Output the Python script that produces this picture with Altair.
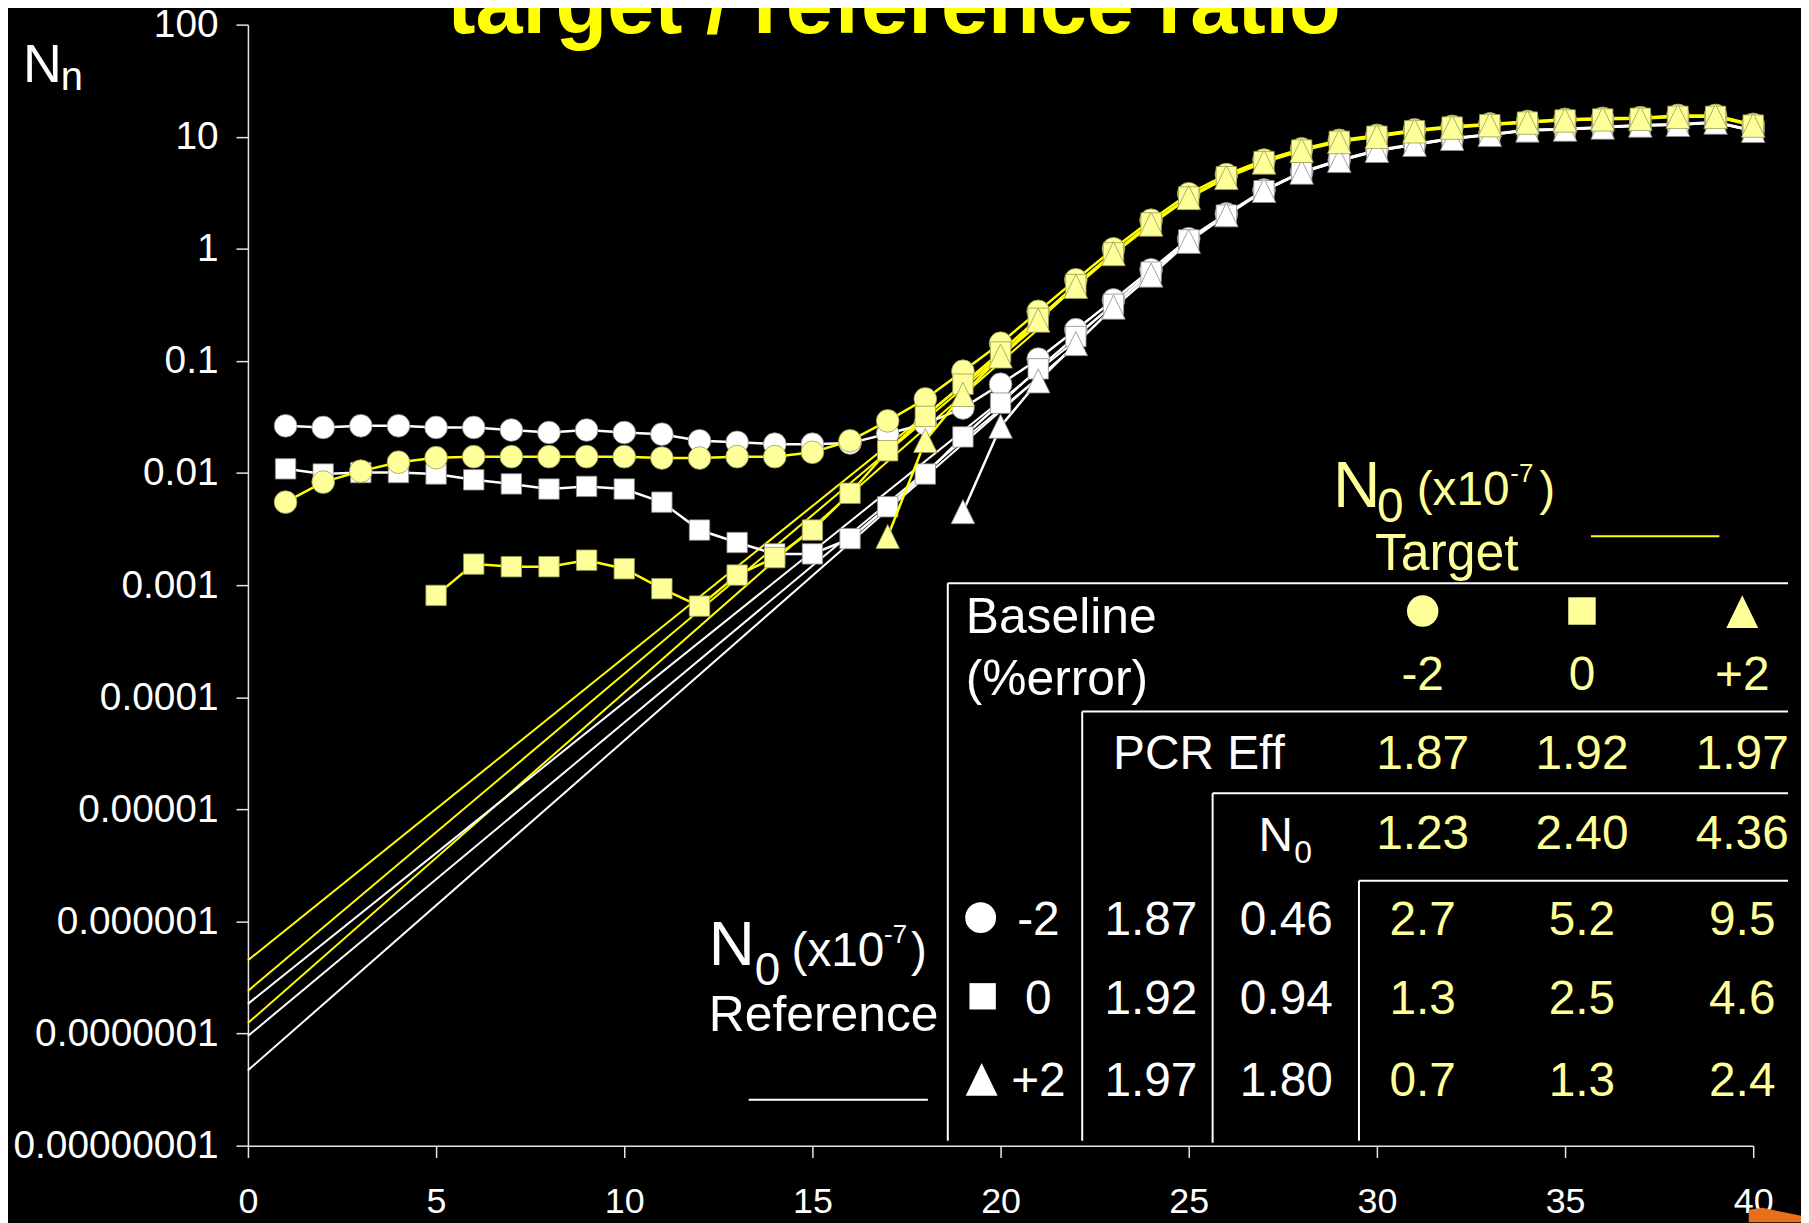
import altair as alt
import pandas as pd

FONT = "Liberation Sans, Arial, Helvetica, sans-serif"
WHITE = "#FFFFFF"
LYEL = "#FFFF99"
YEL = "#FFFF00"

cycles = list(range(1, 41))

# Reference (white) series, baseline error -2 / 0 / +2
ref_m2 = [0.0264, 0.0255, 0.0264, 0.0264, 0.0255, 0.0255, 0.0242, 0.023, 0.0242, 0.023,
          0.0222, 0.0194, 0.0188, 0.0181, 0.0181, 0.0185, 0.0224, 0.0275, 0.038, 0.062,
          0.104, 0.19, 0.35, 0.65, 1.23, 2.05, 3.35, 4.85, 6.2, 7.6,
          8.6, 9.7, 10.5, 11.5, 11.7, 12.2, 12.7, 12.9, 13.5, 11.4]
ref_0 = [0.0109, 0.0098, 0.0101, 0.0101, 0.0098, 0.0087, 0.008, 0.0072, 0.0076, 0.0072,
         0.0055, 0.0031, 0.0024, 0.0019, 0.0019, 0.0026, 0.005, 0.0098, 0.021, 0.042,
         0.085, 0.165, 0.32, 0.62, 1.2, 2.0, 3.3, 4.8, 6.1, 7.5,
         8.5, 9.6, 10.4, 11.4, 11.6, 12.1, 12.6, 12.8, 13.4, 11.3]
ref_p2 = [None] * 18 + [0.0045, 0.026,
          0.066, 0.142, 0.30, 0.58, 1.16, 2.0, 3.3, 4.8, 6.1, 7.5,
          8.5, 9.6, 10.4, 11.4, 11.6, 12.1, 12.6, 12.8, 13.4, 11.3]

# Target (yellow) series
tgt_m2 = [0.0055, 0.0083, 0.0104, 0.0125, 0.0137, 0.014, 0.014, 0.014, 0.014, 0.014,
          0.0136, 0.0136, 0.014, 0.014, 0.0153, 0.0194, 0.0292, 0.0458, 0.081, 0.144,
          0.277, 0.53, 1.0, 1.8, 3.1, 4.6, 6.2, 7.8, 9.3, 10.3,
          11.5, 12.4, 13.0, 13.7, 14.3, 14.6, 14.8, 15.5, 15.5, 12.9]
tgt_0 = [None] * 4 + [0.00081, 0.00154, 0.00146, 0.00146, 0.00167, 0.0014,
         0.00093, 0.00065, 0.00123, 0.00176, 0.0031, 0.0066, 0.0158, 0.032, 0.062, 0.12,
         0.24, 0.48, 0.92, 1.7, 2.9, 4.4, 6.0, 7.6, 9.1, 10.1,
         11.3, 12.2, 12.8, 13.5, 14.1, 14.4, 14.6, 15.2, 15.2, 12.7]
tgt_p2 = [None] * 16 + [0.0027, 0.0194, 0.05, 0.11,
          0.23, 0.46, 0.9, 1.65, 2.85, 4.3, 5.9, 7.5, 9.0, 10.0,
          11.2, 12.1, 12.7, 13.4, 14.0, 14.3, 14.5, 15.1, 15.1, 12.6]

# Straight fitted lines (start at cycle 0, end near the data)
fit_names = ["t1", "t2", "t3", "r1", "r2", "r3"]
fit_group = ["tgt", "tgt", "tgt", "ref", "ref", "ref"]
fit_x0 = [0, 0, 0, 0, 0, 0]
fit_y0 = [4.5e-7, 2.4e-7, 1.24e-7, 1.84e-7, 9.5e-8, 4.7e-8]
fit_x1 = [21, 21, 21, 22, 22, 22]
fit_y1 = [0.212, 0.21, 0.192, 0.152, 0.135, 0.139]

x_ticks = [0, 5, 10, 15, 20, 25, 30, 35, 40]
y_ticks = [1e-8, 1e-7, 1e-6, 1e-5, 1e-4, 1e-3, 1e-2, 1e-1, 1, 10, 100]

TRI = "M0,-1.05L1,1L-1,1Z"
shape_of = {"m2": "circle", "0": "square", "p2": TRI}
size_of = {"m2": 520, "0": 420, "p2": 560}

rows = []
for grp, sets in (("ref", (("m2", ref_m2), ("0", ref_0), ("p2", ref_p2))),
                  ("tgt", (("m2", tgt_m2), ("0", tgt_0), ("p2", tgt_p2)))):
    for key, vals in sets:
        for c, v in zip(cycles, vals):
            if v is not None:
                rows.append({"group": grp, "series": grp + key, "cycle": c, "value": v,
                             "shape": shape_of[key], "msize": size_of[key]})
df = pd.DataFrame(rows)

fit_rows = []
for n, g, a, b, c, d in zip(fit_names, fit_group, fit_x0, fit_y0, fit_x1, fit_y1):
    fit_rows.append({"series": n, "group": g, "cycle": a, "value": b})
    fit_rows.append({"series": n, "group": g, "cycle": c, "value": d})
fit_df = pd.DataFrame(fit_rows)

xscale = alt.Scale(domain=[0, 40], nice=False, zero=False)
yscale = alt.Scale(type="log", domain=[1e-8, 100], nice=False)

x_enc = alt.X("cycle:Q", scale=xscale, axis=alt.Axis(
    values=x_ticks, title=None, grid=False, labelFlush=False, labelOverlap=False,
    domainColor="#E6E6E6", tickColor="#E6E6E6", domainWidth=1.5, tickWidth=1.5, tickSize=12,
    labelColor=WHITE, labelFont=FONT, labelFontSize=36, labelPadding=27))
y_enc = alt.Y("value:Q", scale=yscale, axis=alt.Axis(
    values=y_ticks, title=None, grid=False, labelOverlap=False, labelLimit=400,
    labelExpr="format(datum.value, '.' + max(0, -round(log(datum.value)/LN10)) + 'f')",
    domainColor="#E6E6E6", tickColor="#E6E6E6", domainWidth=1.5, tickWidth=1.5, tickSize=12,
    labelColor=WHITE, labelFont=FONT, labelFontSize=39, labelPadding=18))

def sel(group):
    return alt.datum.group == group

fit_t = alt.Chart(fit_df).transform_filter(sel("tgt")).mark_line(
    color=YEL, strokeWidth=2).encode(x=x_enc, y=y_enc, detail="series:N")
fit_r = alt.Chart(fit_df).transform_filter(sel("ref")).mark_line(
    color=WHITE, strokeWidth=2).encode(x=x_enc, y=y_enc, detail="series:N")

line_r = alt.Chart(df).transform_filter(sel("ref")).mark_line(
    color=WHITE, strokeWidth=2.5).encode(x=x_enc, y=y_enc, detail="series:N", order="cycle:Q")
pts_r = alt.Chart(df).transform_filter(sel("ref")).mark_point(
    fill=WHITE, stroke="#8A8A8A", strokeWidth=0.8, opacity=1, fillOpacity=1).encode(
    x=x_enc, y=y_enc, shape=alt.Shape("shape:N", scale=None),
    size=alt.Size("msize:Q", scale=None))
line_t = alt.Chart(df).transform_filter(sel("tgt")).mark_line(
    color=YEL, strokeWidth=2.5).encode(x=x_enc, y=y_enc, detail="series:N", order="cycle:Q")
pts_t = alt.Chart(df).transform_filter(sel("tgt")).mark_point(
    fill=LYEL, stroke="#9A9A55", strokeWidth=0.8, opacity=1, fillOpacity=1).encode(
    x=x_enc, y=y_enc, shape=alt.Shape("shape:N", scale=None),
    size=alt.Size("msize:Q", scale=None))

# ---------- annotation table (pixel positions relative to plot area) ----------
rule_df = pd.DataFrame([
    {"x": 703, "x2": 1547, "y": 561, "y2": 561, "c": WHITE},
    {"x": 703, "x2": 703, "y": 561, "y2": 1121, "c": WHITE},
    {"x": 838, "x2": 1547, "y": 690, "y2": 690, "c": WHITE},
    {"x": 838, "x2": 838, "y": 690, "y2": 1121, "c": WHITE},
    {"x": 969, "x2": 1547, "y": 772, "y2": 772, "c": WHITE},
    {"x": 969, "x2": 969, "y": 772, "y2": 1123, "c": WHITE},
    {"x": 1116, "x2": 1547, "y": 860, "y2": 860, "c": WHITE},
    {"x": 1116, "x2": 1116, "y": 860, "y2": 1121, "c": WHITE},
    {"x": 1349, "x2": 1478, "y": 514, "y2": 514, "c": YEL},
    {"x": 503, "x2": 683, "y": 1080, "y2": 1080, "c": WHITE},
])
rules = alt.Chart(rule_df).mark_rule(strokeWidth=2).encode(
    x=alt.X("x:Q", scale=None), x2="x2:Q", y=alt.Y("y:Q", scale=None), y2="y2:Q",
    color=alt.Color("c:N", scale=None))

col_x = [1180, 1340, 1501]
base_lbl = ["-2", "0", "+2"]
pcr_eff = ["1.87", "1.92", "1.97"]
tgt_n0 = ["1.23", "2.40", "4.36"]
ref_eff = ["1.87", "1.92", "1.97"]
ref_n0 = ["0.46", "0.94", "1.80"]
ratio = [["2.7", "5.2", "9.5"], ["1.3", "2.5", "4.6"], ["0.7", "1.3", "2.4"]]
row_y = [914, 994, 1076]

left_txt = [
    ("N", -226, 58, 54, WHITE), ("n", -188, 66, 40, WHITE),
    ("N", 1090, 485, 66, LYEL), ("0", 1134, 500, 48, LYEL), ("(x10", 1174, 483, 48, LYEL),
    ("-7", 1268, 459, 26, LYEL), (")", 1297, 483, 48, LYEL),
    ("Target", 1132, 548, 52, LYEL),
    ("Baseline", 721, 611, 50, WHITE), ("(%error)", 721, 673, 50, WHITE),
    ("PCR Eff", 869, 748, 48, WHITE),
    ("N", 1015, 830, 48, WHITE), ("0", 1051, 842, 32, WHITE),
    ("N", 463, 945, 64, WHITE), ("0", 509, 965, 46, WHITE), ("(x10", 546, 946, 48, WHITE),
    ("-7", 639, 922, 26, WHITE), (")", 666, 946, 48, WHITE),
    ("Reference", 463, 1011, 50, WHITE),
]
center_txt = []
for i in range(3):
    center_txt.append((base_lbl[i], col_x[i], 668, 48, LYEL))
    center_txt.append((pcr_eff[i], col_x[i], 748, 48, LYEL))
    center_txt.append((tgt_n0[i], col_x[i], 828, 48, LYEL))
    center_txt.append((base_lbl[i], 794, row_y[i], 48, WHITE))
    center_txt.append((ref_eff[i], 907, row_y[i], 48, WHITE))
    center_txt.append((ref_n0[i], 1043, row_y[i], 48, WHITE))
    for j in range(3):
        center_txt.append((ratio[i][j], col_x[j], row_y[i], 48, LYEL))

def text_layer(items, align, weight="normal"):
    d = pd.DataFrame(items, columns=["t", "px", "py", "fs", "c"])
    return alt.Chart(d).mark_text(align=align, baseline="alphabetic", font=FONT,
                                  fontWeight=weight).encode(
        x=alt.X("px:Q", scale=None), y=alt.Y("py:Q", scale=None), text="t:N",
        size=alt.Size("fs:Q", scale=None), color=alt.Color("c:N", scale=None))

txt_left = text_layer(left_txt, "left")
txt_center = text_layer(center_txt, "center")
title = text_layer([("target / reference ratio", 649, 8, 85, YEL)], "center", "bold")

sym_df = pd.DataFrame([
    {"px": 1180, "py": 589, "shape": "circle", "s": 1000, "c": LYEL},
    {"px": 1340, "py": 589, "shape": "square", "s": 760, "c": LYEL},
    {"px": 1501, "py": 590, "shape": "M0,-1.06L1,1L-1,1Z", "s": 1024, "c": LYEL},
    {"px": 736, "py": 897, "shape": "circle", "s": 960, "c": WHITE},
    {"px": 738, "py": 976, "shape": "square", "s": 700, "c": WHITE},
    {"px": 737, "py": 1060, "shape": "M0,-1.06L1,1L-1,1Z", "s": 1024, "c": WHITE},
    # small orange slide-navigation corner at the bottom right
    {"px": 1534, "py": 1195, "shape": "M-1,-0.17L-0.47,-0.25L1,0.06L1,0.3L-1,0.3Z",
     "s": 2809, "c": "#E8701A"},
])
syms = alt.Chart(sym_df).mark_point(filled=True, opacity=1).encode(
    x=alt.X("px:Q", scale=None), y=alt.Y("py:Q", scale=None),
    shape=alt.Shape("shape:N", scale=None), size=alt.Size("s:Q", scale=None),
    color=alt.Color("c:N", scale=None))

chart = alt.layer(
    fit_t, fit_r, line_r, pts_r, line_t, pts_t, rules, syms, txt_left, txt_center, title
).properties(
    width=1512, height=1126,
    autosize=alt.AutoSizeParams(type="none"),
    padding={"left": 241, "top": 14, "right": 48, "bottom": 75},
    background="#000000",
).configure_view(strokeWidth=0)

chart.save("out.html", embed_options={"renderer": "svg", "actions": False})
